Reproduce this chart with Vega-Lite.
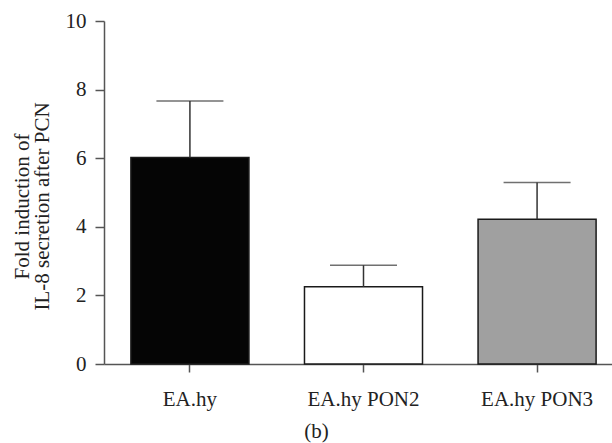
{
  "$schema": "https://vega.github.io/schema/vega-lite/v6.json",
  "width": 508,
  "height": 343,
  "autosize": {"type": "none"},
  "padding": {"left": 104, "top": 21, "right": 0, "bottom": 79},
  "background": "white",
  "config": {
    "view": {"stroke": null},
    "font": "Liberation Serif",
    "axis": {
      "domainColor": "#555555",
      "tickColor": "#555555",
      "domainWidth": 1.5,
      "tickWidth": 1.5,
      "labelColor": "#222222",
      "titleColor": "#222222",
      "labelFont": "Liberation Serif",
      "titleFont": "Liberation Serif",
      "labelFontSize": 21,
      "titleFontSize": 21,
      "titleFontWeight": "normal",
      "grid": false
    }
  },
  "data": {
    "values": [
      {"group": "EA.hy", "mean": 6.02, "upper": 7.67},
      {"group": "EA.hy PON2", "mean": 2.25, "upper": 2.88},
      {"group": "EA.hy PON3", "mean": 4.22, "upper": 5.29}
    ]
  },
  "encoding": {
    "x": {
      "field": "group",
      "type": "nominal",
      "sort": null,
      "scale": {"range": [0, 519], "paddingInner": 0.32, "paddingOuter": 0.155},
      "axis": {
        "title": "(b)",
        "titleX": 212,
        "titleY": 67,
        "titleAlign": "center",
        "titleBaseline": "middle",
        "labelAngle": 0,
        "tickSize": 8,
        "labelPadding": 16
      }
    }
  },
  "layer": [
    {
      "mark": {"type": "bar", "stroke": "#1a1a1a", "strokeWidth": 1.5},
      "encoding": {
        "y": {
          "field": "mean",
          "type": "quantitative",
          "scale": {"domain": [0, 10]},
          "axis": {
            "title": ["Fold induction of", "IL-8 secretion after PCN"],
            "values": [0, 2, 4, 6, 8, 10],
            "tickSize": 9,
            "labelPadding": 9,
            "titleAngle": -90,
            "titleAlign": "center",
            "titleBaseline": "alphabetic",
            "titleX": -76,
            "titleY": 185,
            "titleLineHeight": 20
          }
        },
        "fill": {
          "field": "group",
          "type": "nominal",
          "sort": null,
          "scale": {"range": ["#050505", "#ffffff", "#a0a0a0"]},
          "legend": null
        }
      }
    },
    {
      "mark": {"type": "rule", "color": "#333333", "strokeWidth": 1.5},
      "encoding": {
        "y": {"field": "mean", "type": "quantitative"},
        "y2": {"field": "upper"}
      }
    },
    {
      "mark": {"type": "tick", "color": "#333333", "thickness": 1.5, "size": 67},
      "encoding": {
        "y": {"field": "upper", "type": "quantitative"}
      }
    }
  ]
}
